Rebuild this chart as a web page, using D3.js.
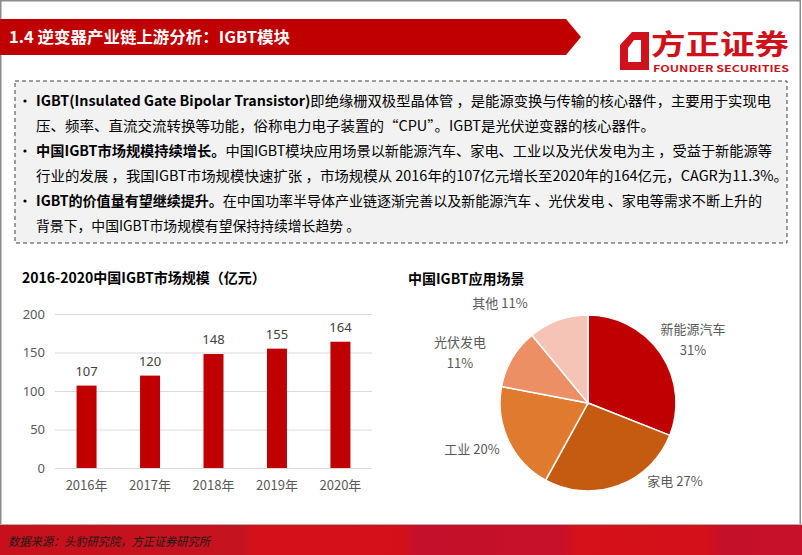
<!DOCTYPE html>
<html>
<head>
<meta charset="utf-8">
<script src="https://cdn.jsdelivr.net/npm/d3@7"></script>
<style>
  html, body { margin: 0; padding: 0; background: #fff; }
  svg { display: block; font-family: "Noto Sans CJK SC", "Noto Sans", sans-serif; }
</style>
</head>
<body>
<script>
'use strict';

// ---- data ----
const years = ["2016年", "2017年", "2018年", "2019年", "2020年"];
const marketSize = [107, 120, 148, 155, 164];
const yTicks = [0, 50, 100, 150, 200];

const pieNames = ["新能源汽车", "家电", "工业", "光伏发电", "其他"];
const pieShares = [31, 27, 20, 11, 11];
const pieColors = ["#c00000", "#c55a11", "#e07a2f", "#ec8f64", "#f5c4b6"];

// text block: each line is a list of [bold?, text]
const bulletLines = [
	[[true, "IGBT(Insulated Gate Bipolar Transistor)"], [false, "即绝缘栅双极型晶体管 ，是能源变换与传输的核心器件，主要用于实现电"]],
	[[false, "压、频率、直流交流转换等功能，俗称电力电子装置的“CPU”。IGBT是光伏逆变器的核心器件。"]],
	[[true, "中国IGBT市场规模持续增长。"], [false, "中国IGBT模块应用场景以新能源汽车、家电、工业以及光伏发电为主 ，受益于新能源等"]],
	[[false, "行业的发展 ，我国IGBT市场规模快速扩张 ，市场规模从 2016年的107亿元增长至2020年的164亿元，CAGR为11.3%。"]],
	[[true, "IGBT的价值量有望继续提升。"], [false, "在中国功率半导体产业链逐渐完善以及新能源汽车 、光伏发电 、家电等需求不断上升的"]],
	[[false, "背景下，中国IGBT市场规模有望保持持续增长趋势 。"]]
];
const bulletAt = [0, 2, 4];
const lineEnds = [771, 655, 772, 788, 762, 360];

const W = 802, H = 555;

const svg = d3.select("body").append("svg")
	.attr("width", W)
	.attr("height", H);

const defs = svg.append("defs");
const grad = defs.append("linearGradient").attr("id", "foot");
[["0%", "#c8101c"], ["30%", "#c41420"], ["32%", "#d5101a"], ["50%", "#d40f19"], ["52%", "#c4102a"], ["70%", "#c8102a"], ["72%", "#d6111a"], ["88%", "#d4101a"], ["90%", "#c5102a"], ["100%", "#c8102a"]]
	.forEach(s => grad.append("stop").attr("offset", s[0]).attr("stop-color", s[1]));

// page frame
svg.append("rect")
	.attr("x", 0.75).attr("y", 0.75)
	.attr("width", W - 2.5).attr("height", H - 1.5)
	.attr("fill", "none")
	.attr("stroke", "#8c8c8c")
	.attr("stroke-width", 1.5);

// ---- header ----
svg.append("path")
	.attr("d", "M0,19 L566,19 L581,37 L566,55 L0,55 Z")
	.attr("fill", "#c00000");
svg.append("text")
	.attr("x", 9).attr("y", 43)
	.attr("fill", "#fff")
	.attr("font-size", 16)
	.attr("font-weight", "bold")
	.attr("textLength", 281)
	.attr("lengthAdjust", "spacingAndGlyphs")
	.text("1.4 逆变器产业链上游分析：IGBT模块");

// logo
const logo = svg.append("g");
logo.append("path")
	.attr("d", "M620,45 L632,32 L649,32 L649,70 L620,70 Z M628,48 L628,62 L641,62 L641,40 L634,40 Z")
	.attr("fill", "#d0101b")
	.attr("fill-rule", "evenodd");
logo.append("text")
	.attr("x", 651).attr("y", 55)
	.attr("fill", "#d0101b")
	.attr("font-size", 28)
	.attr("font-weight", "bold")
	.attr("textLength", 138)
	.attr("lengthAdjust", "spacingAndGlyphs")
	.text("方正证券");
logo.append("text")
	.attr("x", 653).attr("y", 72)
	.attr("fill", "#d0101b")
	.attr("font-size", 9)
	.attr("font-weight", "bold")
	.attr("textLength", 136)
	.attr("lengthAdjust", "spacingAndGlyphs")
	.text("FOUNDER SECURITIES");

// ---- text box ----
svg.append("rect")
	.attr("x", 15).attr("y", 81)
	.attr("width", 772).attr("height", 162)
	.attr("fill", "#f2f2f2")
	.attr("stroke", "#404040")
	.attr("stroke-width", 1)
	.attr("stroke-dasharray", "4,3");

const lineY = d3.scaleLinear().domain([0, 5]).range([106, 231]);
bulletLines.forEach((segs, i) => {
	const t = svg.append("text")
		.attr("x", 36).attr("y", lineY(i))
		.attr("fill", "#000")
		.attr("font-size", 14)
		.attr("textLength", lineEnds[i] - 36)
		.attr("lengthAdjust", "spacingAndGlyphs");
	segs.forEach(s => {
		t.append("tspan")
			.attr("font-weight", s[0] ? "bold" : "normal")
			.text(s[1]);
	});
});
svg.selectAll("circle.bullet")
	.data(bulletAt)
	.join("circle")
	.attr("class", "bullet")
	.attr("cx", 25)
	.attr("cy", d => lineY(d) - 5)
	.attr("r", 1.6)
	.attr("fill", "#000");

// ---- bar chart ----
svg.append("text")
	.attr("x", 22).attr("y", 283)
	.attr("font-size", 14)
	.attr("font-weight", "bold")
	.attr("fill", "#000")
	.text("2016-2020中国IGBT市场规模（亿元）");

const x = d3.scaleBand()
	.domain(years)
	.range([55, 372])
	.paddingInner(0.685)
	.paddingOuter(0.34);
const y = d3.scaleLinear()
	.domain([0, 200])
	.range([468, 314]);

const barG = svg.append("g");
barG.append("g")
	.attr("transform", "translate(55,0)")
	.call(d3.axisLeft(y).tickValues(yTicks).tickSize(-317).tickPadding(10))
	.call(g => g.select(".domain").remove())
	.call(g => g.selectAll("line").attr("stroke", "#d9d9d9"))
	.call(g => g.selectAll("text")
		.attr("fill", "#595959")
		.attr("font-size", 13)
		.attr("font-family", "'Noto Sans', 'Noto Sans CJK SC', sans-serif"));

barG.append("g")
	.attr("transform", "translate(0,468)")
	.call(d3.axisBottom(x).tickSize(0).tickPadding(13))
	.call(g => g.select(".domain").remove())
	.call(g => g.selectAll("text")
		.attr("fill", "#595959")
		.attr("font-size", 13)
		.attr("font-family", "'Noto Sans CJK SC', sans-serif"));

barG.selectAll("rect.bar")
	.data(marketSize)
	.join("rect")
	.attr("class", "bar")
	.attr("x", (d, i) => x(years[i]))
	.attr("y", d => y(d))
	.attr("width", x.bandwidth())
	.attr("height", d => y(0) - y(d))
	.attr("fill", "#c00000");

barG.selectAll("text.val")
	.data(marketSize)
	.join("text")
	.attr("class", "val")
	.attr("x", (d, i) => x(years[i]) + x.bandwidth() / 2)
	.attr("y", d => y(d) - 10)
	.attr("text-anchor", "middle")
	.attr("fill", "#404040")
	.attr("font-size", 13)
	.attr("font-family", "'Noto Sans', sans-serif")
	.text(d => d);

// ---- pie chart ----
svg.append("text")
	.attr("x", 408).attr("y", 284)
	.attr("font-size", 14)
	.attr("font-weight", "bold")
	.attr("fill", "#000")
	.text("中国IGBT应用场景");

const cx = 588, cy = 403, R = 88;
const pie = d3.pie().sort(null).value(d => d)(pieShares);
const arc = d3.arc().innerRadius(0).outerRadius(R);
const pieG = svg.append("g").attr("transform", `translate(${cx},${cy})`);
pieG.selectAll("path")
	.data(pie)
	.join("path")
	.attr("d", arc)
	.attr("fill", (d, i) => pieColors[i])
	.attr("stroke", "#fff")
	.attr("stroke-width", 1.5);

// label placement: [dx, dy, two lines?] relative to pie centre
const labelPos = [
	{ dx: 105, dy: -69, split: true },
	{ dx: 87, dy: 83, split: false },
	{ dx: -116, dy: 51, split: false },
	{ dx: -128, dy: -56, split: true },
	{ dx: -88, dy: -95, split: false }
];
const lab = pieG.selectAll("text.lab")
	.data(pie)
	.join("text")
	.attr("class", "lab")
	.attr("text-anchor", "middle")
	.attr("fill", "#595959")
	.attr("font-size", 13);
lab.each(function (d, i) {
	const p = labelPos[i];
	const t = d3.select(this);
	const pct = pieShares[i] + "%";
	if (p.split) {
		t.append("tspan").attr("x", p.dx).attr("y", p.dy).text(pieNames[i]);
		t.append("tspan").attr("x", p.dx).attr("y", p.dy + 21).text(pct);
	} else {
		t.append("tspan").attr("x", p.dx).attr("y", p.dy).text(pieNames[i] + " " + pct);
	}
});

// ---- footer ----
svg.append("line")
	.attr("x1", 0).attr("x2", W)
	.attr("y1", 524.5).attr("y2", 524.5)
	.attr("stroke", "#b0b0b0");
svg.append("rect")
	.attr("x", 0).attr("y", 525)
	.attr("width", W).attr("height", 30)
	.attr("fill", "url(#foot)");
svg.append("text")
	.attr("x", 8).attr("y", 546)
	.attr("font-size", 12)
	.attr("font-style", "italic")
	.attr("fill", "#1a1a1a")
	.attr("textLength", 202)
	.attr("lengthAdjust", "spacingAndGlyphs")
	.text("数据来源：头豹研究院，方正证券研究所");
</script>
</body>
</html>
